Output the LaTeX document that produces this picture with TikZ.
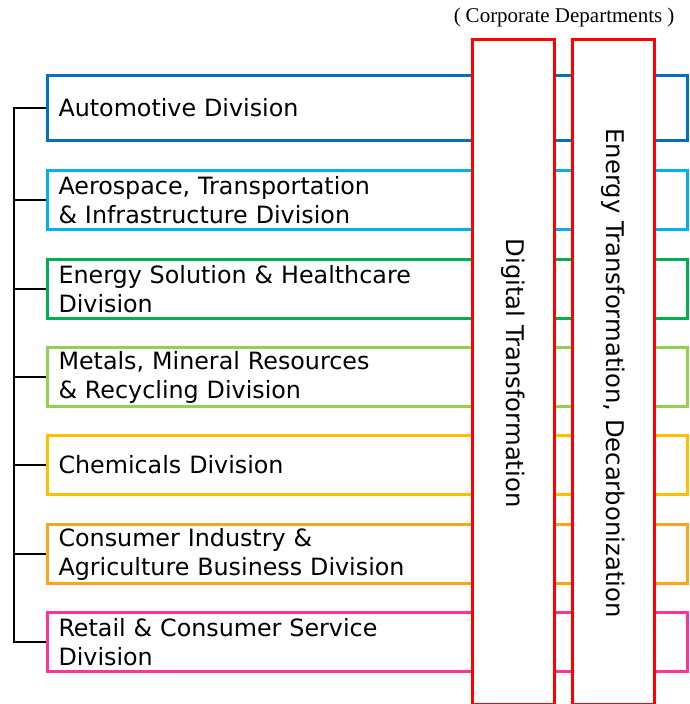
\documentclass[tikz,border=0pt]{standalone}
\usepackage{fontspec}
\setmainfont{DejaVu Sans}
\newfontfamily\serifhead{Liberation Serif}
\definecolor{cAuto}{HTML}{0070C0}
\definecolor{cAero}{HTML}{00B0F0}
\definecolor{cEnergy}{HTML}{00B050}
\definecolor{cMetal}{HTML}{92D050}
\definecolor{cChem}{HTML}{FFC000}
\definecolor{cCons}{HTML}{FFA31A}
\definecolor{cRetail}{HTML}{FF3399}
\definecolor{cRed}{HTML}{FF0000}
\begin{document}
\begin{tikzpicture}[x=1pt,y=-1pt,
  divbox/.style={draw, line width=3pt, anchor=north west, minimum width=640pt,
    text width=618pt, inner xsep=11pt, align=left, font=\fontsize{23.8}{29}\selectfont},
  corpbox/.style={draw=cRed, fill=white, line width=3pt, anchor=north west, minimum width=82pt, minimum height=665pt},
  vlabel/.style={rotate=-90, font=\fontsize{24.3}{29}\selectfont},
  bracket/.style={draw=black, line width=1.3pt}]
\useasboundingbox (0,0) rectangle (689,704);
\node[divbox, draw=cAuto, minimum height=65pt] (a) at (46,74) {Automotive Division};
\node[divbox, draw=cAero, minimum height=59pt] (b) at (46,169) {Aerospace, Transportation\\\& Infrastructure Division};
\node[divbox, draw=cEnergy, minimum height=59pt] (c) at (46,258) {Energy Solution \& Healthcare\\Division};
\node[divbox, draw=cMetal, minimum height=59pt] (d) at (46,346) {Metals, Mineral Resources\\\& Recycling Division};
\node[divbox, draw=cChem, minimum height=59pt] (e) at (46,434) {Chemicals Division};
\node[divbox, draw=cCons, minimum height=59pt] (f) at (46,523) {Consumer Industry \&\\Agriculture Business Division};
\node[divbox, draw=cRetail, minimum height=59pt] (g) at (46,611) {Retail \& Consumer Service\\Division};
\draw[bracket] (a.west) -- ([xshift=-32pt]a.west) coordinate (top) |- (g.west);
\foreach \n in {b,c,d,e,f} \draw[bracket] (\n.west) -- ([xshift=-32pt]\n.west);
\node[corpbox] (dt) at (471,38) {};
\node[corpbox] (et) at (571,38) {};
\node[vlabel] (dtl) at ([yshift=-1pt]dt.center) {Digital Transformation};
\node[vlabel] (etl) at ([yshift=-1pt]et.center) {Energy Transformation, Decarbonization};
\node[font=\serifhead\fontsize{21}{24}\selectfont] (hd) at (564,17) {(\hspace{5pt}Corporate Departments\hspace{5pt})};
\end{tikzpicture}
\end{document}
